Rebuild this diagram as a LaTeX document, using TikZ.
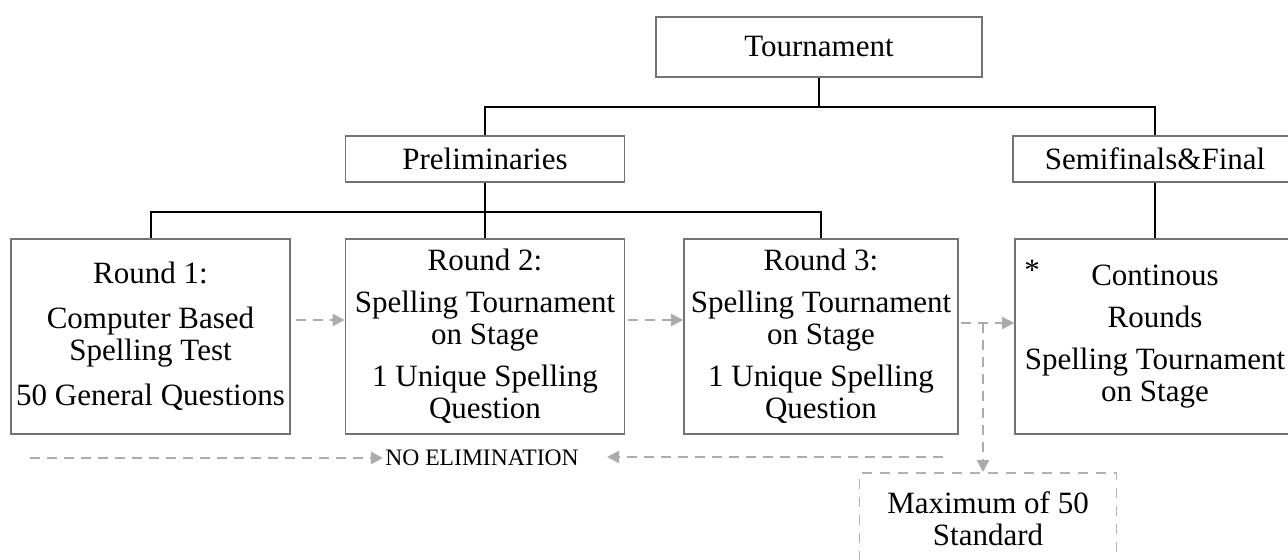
\documentclass[tikz,border=0pt]{standalone}
\usepackage{fontspec}
\setmainfont{Liberation Serif}
\usetikzlibrary{arrows.meta}
\begin{document}
\begin{tikzpicture}[x=0.5pt,y=-0.5pt,
  box/.style={draw=black!55,line width=0.9pt,align=center,inner sep=1pt,
    font=\fontsize{15.5}{16}\selectfont},
  conn/.style={draw=black,line width=1pt},
  darr/.style={draw=black!33,line width=1.2pt,dash pattern=on 5pt off 3.5pt,
    -{Triangle[length=6pt,width=6pt,fill=black!33]}},
  maxstyle/.style={draw=black!30,line width=0.8pt,dash pattern=on 5pt off 4pt,
    align=center,inner sep=1pt,font=\fontsize{15.5}{16}\selectfont},
  lbl/.style={inner sep=1pt,font=\fontsize{11.8}{12}\selectfont}]
\clip (0,0) rectangle (1288,560);
\fill[white] (0,0) rectangle (1288,560);

\node[box,minimum width=163pt,minimum height=30pt] (tour) at (819,47) {Tournament};
\node[box,minimum width=139.5pt,minimum height=23pt] (prel) at (485,159) {Preliminaries};
\node[box,minimum width=142pt,minimum height=23pt] (semi) at (1155,159) {Semifinals\&Final};

\node[box,minimum width=139.5pt,minimum height=97.5pt] (r1) at (150.5,336.5)
  {Round 1:\\[6.5pt]Computer Based\\Spelling Test\\[6.5pt]50 General Questions};
\node[box,minimum width=139.5pt,minimum height=97.5pt] (r2) at (485,336.5)
  {Round 2:\\[5pt]Spelling Tournament\\on Stage\\[5pt]1 Unique Spelling\\Question};
\node[box,minimum width=137pt,minimum height=97.5pt] (r3) at (821,336.5)
  {Round 3:\\[5pt]Spelling Tournament\\on Stage\\[5pt]1 Unique Spelling\\Question};
\node[box,minimum width=140pt,minimum height=97.5pt] (fin) at (1155,336.5)
  {Continous\\[5pt]Rounds\\[5pt]Spelling Tournament\\on Stage};
\node[inner sep=0pt,font=\fontsize{15.5}{16}\selectfont] (ast) at (1032,270) {*};

\node[maxstyle,minimum width=128.5pt,minimum height=46pt,anchor=north] (maxb) at (988,472)
  {Maximum of 50\\Standard};

\node[lbl] (noel) at (482,458) {NO ELIMINATION};

% tree connectors
\coordinate (j1) at (819,107);
\coordinate (j2) at (485,212);
\draw[conn] (tour.south) -- (j1);
\draw[conn] (prel.north) |- (j1) -| (semi.north);
\draw[conn] (prel.south) -- (j2);
\draw[conn] (r1.north) |- (j2) -| (r3.north);
\draw[conn] (j2) -- (r2.north);
\draw[conn] (semi.south) -- (fin.north);

% dashed flow
\coordinate (ya) at (0,320);
\coordinate (yb) at (0,323);
\coordinate (jv) at (983,323);
\draw[darr] (r1.east |- ya) ++(5,0) -- (r2.west |- ya);
\draw[darr] (r2.east |- ya) ++(3,0) -- (r3.west |- ya);
\draw[darr] (r3.east |- yb) ++(2,0) -- (fin.west |- yb);
\draw[darr] (jv) -- (jv |- maxb.north);

\coordinate (nl) at (30,458);
\coordinate (nr) at (943,457);
\draw[darr] (nl) -- (noel.west);
\draw[darr] (nr) -- ([xshift=13pt,yshift=0.5pt]noel.east);
\end{tikzpicture}
\end{document}
